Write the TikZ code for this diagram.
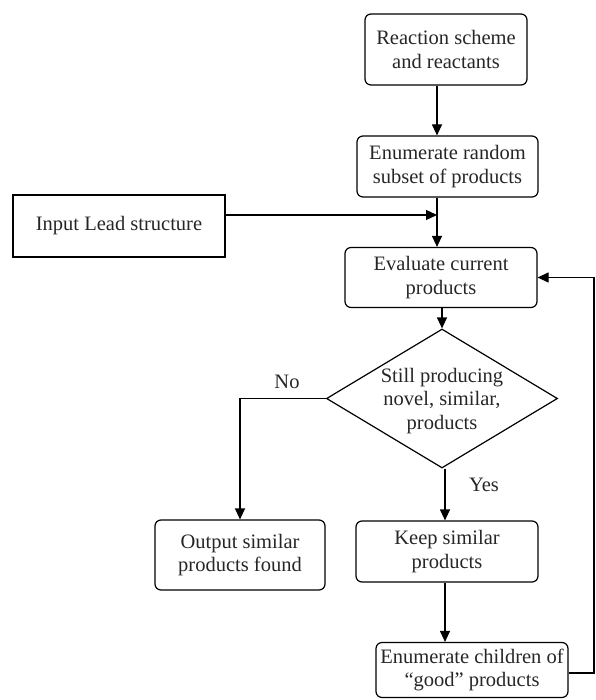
\documentclass[tikz,border=0pt]{standalone}
\usepackage{fontspec}
\setmainfont{Liberation Serif}
\usetikzlibrary{shapes.geometric,arrows.meta}
\begin{document}
\begin{tikzpicture}[x=1pt,y=-1pt,
  every node/.style={font=\fontsize{20.5}{23.5}\selectfont, text=black!85},
  rbox/.style={draw, rounded corners=6pt, line width=1.2pt, align=center, inner sep=0pt},
  sbox/.style={draw, line width=1.2pt, align=center, inner sep=0pt},
  conn/.style={line width=1.2pt, -{Triangle[length=11pt,width=10pt]}},
  plain/.style={line width=1.2pt}]
\useasboundingbox (0,0) rectangle (595,700);
\node[rbox, minimum width=162pt, minimum height=71pt] (react) at (446,49.5) {Reaction scheme\\and reactants};
\node[rbox, minimum width=181pt, minimum height=61pt] (enum) at (447.5,166.5) {Enumerate random\\subset of products};
\node[sbox, minimum width=212pt, minimum height=62pt] (lead) at (119,226) {Input Lead structure};
\node[rbox, minimum width=192pt, minimum height=60pt] (eval) at (441,277.5) {Evaluate current\\products};
\node[diamond, draw, line width=1.2pt, minimum width=231pt, minimum height=139pt, inner sep=0pt] (dia) at (442,398.5) {};
\node[align=center, inner sep=0pt] (diatext) at (442,401) {Still producing\\novel, similar,\\products};
\node[rbox, minimum width=170pt, minimum height=70pt] (out) at (240,555) {Output similar\\products found};
\node[rbox, minimum width=182pt, minimum height=61pt] (keep) at (447,551.5) {Keep similar\\products};
\node[rbox, minimum width=192pt, minimum height=55pt] (child) at (472,670) {Enumerate children of\\``good'' products};
\coordinate (axis) at (437,0);
\coordinate (feed) at (594,0);
\coordinate (leadpt) at (0,215);
\node[inner sep=0pt] (no) at (287,382) {No};
\node[inner sep=0pt] (yes) at (484,485) {Yes};
\draw[conn] (react.south -| axis) -- (enum.north -| axis);
\draw[conn] (enum.south -| axis) -- (eval.north -| axis);
\draw[conn] (lead.east |- leadpt) -- (axis |- leadpt);
\draw[conn] (eval.south -| dia.north) -- (dia.north);
\draw[conn] (dia.west) -| (out.north);
\draw[conn] ([xshift=3pt]dia.south) -- ([xshift=3pt]dia.south |- keep.north);
\draw[conn] ([xshift=3pt]dia.south |- keep.south) -- ([xshift=3pt]dia.south |- child.north);
\draw[conn] (child.east |- 0,673) -- (feed |- 0,673) -- (feed |- eval.east) -- (eval.east);
\end{tikzpicture}
\end{document}
